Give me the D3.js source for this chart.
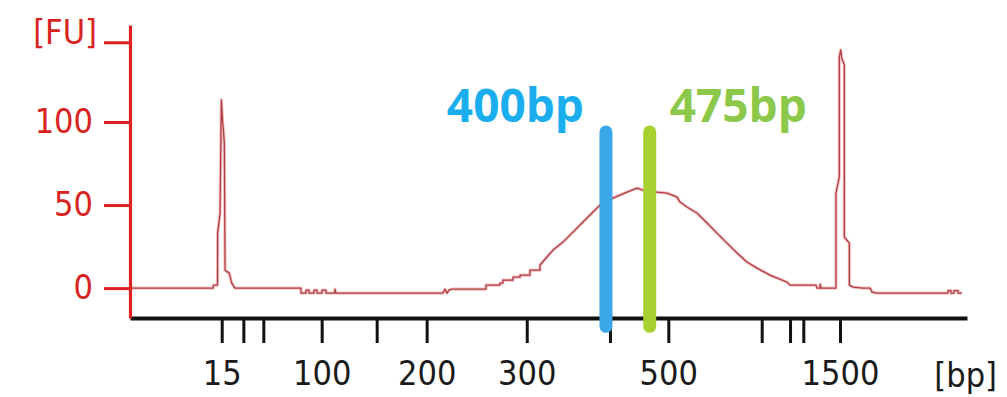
<!DOCTYPE html>
<html>
<head>
<meta charset="utf-8">
<script src="https://cdn.jsdelivr.net/npm/d3@7"></script>
<style>
  html, body { margin: 0; padding: 0; background: #ffffff; }
  svg { display: block; }
</style>
</head>
<body>
<svg id="chart" width="1007" height="397"></svg>
<script>
// ---------------- DATA ----------------
// Ladder fragment sizes (bp) and their migration times (s)
const ladderSizes = [15, 25, 50, 100, 150, 200, 300, 400, 500, 700, 850, 1000, 1500];
const ladderTimes = [47.67, 49.48, 51.15, 56.03, 60.63, 64.81, 73.18, 80.14, 85.02, 92.83, 95.20, 96.31, 99.38];
const labeledSizes = [15, 100, 200, 300, 500, 1500];

// Y ticks (FU)
const yTickValues = [0, 50, 100];
const yUnitTick = 148;
const yUnitLabel = "[FU]";
const xUnitLabel = "[bp]";

// Electropherogram trace: migration time (s) and fluorescence (FU)
const traceTime = [
  40.00, 46.94, 46.98, 47.32, 47.33, 47.53, 47.64, 47.75, 47.80, 47.89, 47.95, 48.30, 48.51, 48.78,
  54.30, 54.30, 54.72, 54.72, 54.97, 54.97, 55.39, 55.39, 55.64, 55.64, 56.06, 56.06, 56.39, 56.39,
  57.14, 57.14, 57.23, 66.18, 66.34, 66.51, 66.68, 66.93, 69.77, 69.77, 70.94, 70.94, 71.19, 71.19,
  72.03, 72.03, 72.62, 72.62, 73.45, 73.45, 74.29, 74.29, 74.87, 75.38, 76.21, 77.05, 77.89, 78.72,
  79.31, 80.39, 80.98, 81.57, 82.40, 82.90, 84.07, 84.91, 85.75, 86.00, 86.58, 87.42, 88.26, 89.09,
  89.93, 90.77, 91.60, 92.44, 93.53, 94.95, 95.20, 97.12, 97.37, 97.45, 97.71, 97.71, 97.79, 99.00,
  99.04, 99.04, 99.32, 99.32, 99.44, 99.52, 99.74, 99.74, 100.16, 100.16, 100.49, 101.30, 101.89,
  102.06, 102.47, 108.41, 108.41, 108.66, 108.66, 108.91, 108.91, 109.25, 109.25, 109.58
];
const traceFU = [
  0, 0, 1.8, 1.8, 33.1, 45.2, 113.3, 99.4, 96.4, 87.3, 10.8, 9.0, 3.0, 0,
  0, -3, -3, -1.2, -1.2, -3, -3, -1.2, -1.2, -3, -3, -1.2, -1.2, -3,
  -3, -0.6, -3, -3, -0.6, -3, -1.2, -0.6, -0.6, 1.8, 1.8, 3.0, 3.0, 4.8,
  4.8, 6.6, 6.6, 7.8, 7.8, 10.8, 10.8, 13.9, 18.7, 22.9, 27.7, 33.7, 39.8, 45.8,
  50.0, 54.2, 56.0, 57.8, 60.2, 59.0, 57.8, 57.2, 54.8, 51.8, 48.8, 45.2, 39.2, 33.1,
  27.1, 21.1, 15.7, 12.0, 7.8, 3.6, 1.8, 1.8, 1.8, 0, 0, 2.4, 0, 0,
  0, 57.2, 66.9, 139.2, 143.4, 138.6, 134.3, 30.7, 27.1, 1.8, 0.6, 0, 0,
  -2.4, -3, -3, -1.5, -1.5, -3, -3, -1.5, -1.5, -3, -3
];

// Size markers
const markerSizes = [400, 475];
const markerLabels = ["400bp", "475bp"];
const markerTop = 94;     // FU
const markerBottom = -23; // FU
const markerLabelBase = 100; // FU

// ---------------- STYLES ----------------
const W = 1007, H = 397;
const axisRed = "#dd2020";
const labelRed = "#d8231f";
const traceColor = "#b03e46";
const markerColors = ["#3aa7e8", "#a8d030"];
const markerTextColors = ["#1aaeee", "#8cc84a"];
const tickFont = "'DejaVu Sans Condensed', 'DejaVu Sans', sans-serif";
const tickSize = "34px";

const svg = d3.select("#chart");
svg.append("rect").attr("width", W).attr("height", H).attr("fill", "#fff");

// Scales
const x = d3.scaleLinear().domain([40, 110]).range([130, 967]);
const y = d3.scaleLinear().domain([-18, 158.4]).range([318, 25]);
const sizeToTime = d3.scaleLinear().domain(ladderSizes).range(ladderTimes);

// Trace
const trace = traceTime.map((t, i) => [t, traceFU[i]]);
const line = d3.line().x(d => x(d[0])).y(d => y(d[1]));
svg.append("path").datum(trace)
  .attr("d", line).attr("fill", "none")
  .attr("stroke", "#f2c2c2").attr("stroke-width", 3.2)
  .attr("stroke-linejoin", "round");
svg.append("path").datum(trace)
  .attr("d", line).attr("fill", "none")
  .attr("stroke", traceColor).attr("stroke-width", 1.3)
  .attr("stroke-linejoin", "round");

// X axis
const xAxis = d3.axisBottom(x)
  .tickValues(ladderTimes)
  .tickSize(25).tickSizeOuter(0).tickPadding(18)
  .tickFormat((t, i) => labeledSizes.includes(ladderSizes[i]) ? String(ladderSizes[i]) : "");
const gx = svg.append("g").attr("transform", `translate(0,${y.range()[0]})`).call(xAxis);
gx.select(".domain").attr("stroke", "#111").attr("stroke-width", 4);
gx.selectAll(".tick line").attr("stroke", "#111").attr("stroke-width", 3);
gx.selectAll(".tick text").attr("fill", "#1a1a1a")
  .style("font-family", tickFont).style("font-size", tickSize);
svg.append("text").text(xUnitLabel)
  .attr("x", W - 10).attr("y", 387).attr("text-anchor", "end")
  .attr("fill", "#1a1a1a").style("font-family", tickFont).style("font-size", tickSize);

// Y axis
const yAxis = d3.axisLeft(y)
  .tickValues(yTickValues.concat([yUnitTick]))
  .tickSize(26).tickSizeOuter(0).tickPadding(11)
  .tickFormat(v => v === yUnitTick ? "" : String(v));
const gy = svg.append("g").attr("transform", `translate(${x.range()[0]},0)`).call(yAxis);
gy.select(".domain").attr("stroke", axisRed).attr("stroke-width", 3.2);
gy.selectAll(".tick line").attr("stroke", axisRed).attr("stroke-width", 3);
gy.selectAll(".tick text").attr("fill", labelRed)
  .style("font-family", tickFont).style("font-size", tickSize);
svg.append("text").text(yUnitLabel)
  .attr("x", 97).attr("y", y(yUnitTick) + 2).attr("text-anchor", "end")
  .attr("fill", labelRed).style("font-family", tickFont).style("font-size", tickSize);

// Markers
markerSizes.forEach((s, i) => {
  const mx = x(sizeToTime(s)) - 4;
  svg.append("line")
    .attr("x1", mx).attr("x2", mx)
    .attr("y1", y(markerTop)).attr("y2", y(markerBottom))
    .attr("stroke", markerColors[i]).attr("stroke-width", 13)
    .attr("stroke-linecap", "round");
  svg.append("text").text(markerLabels[i])
    .attr("x", i === 0 ? mx - 22 : mx + 20)
    .attr("y", y(markerLabelBase))
    .attr("text-anchor", i === 0 ? "end" : "start")
    .attr("fill", markerTextColors[i])
    .style("font-family", "'Open Sans', 'Noto Sans', sans-serif")
    .style("font-weight", 700).style("font-size", "46px");
});
</script>
</body>
</html>
